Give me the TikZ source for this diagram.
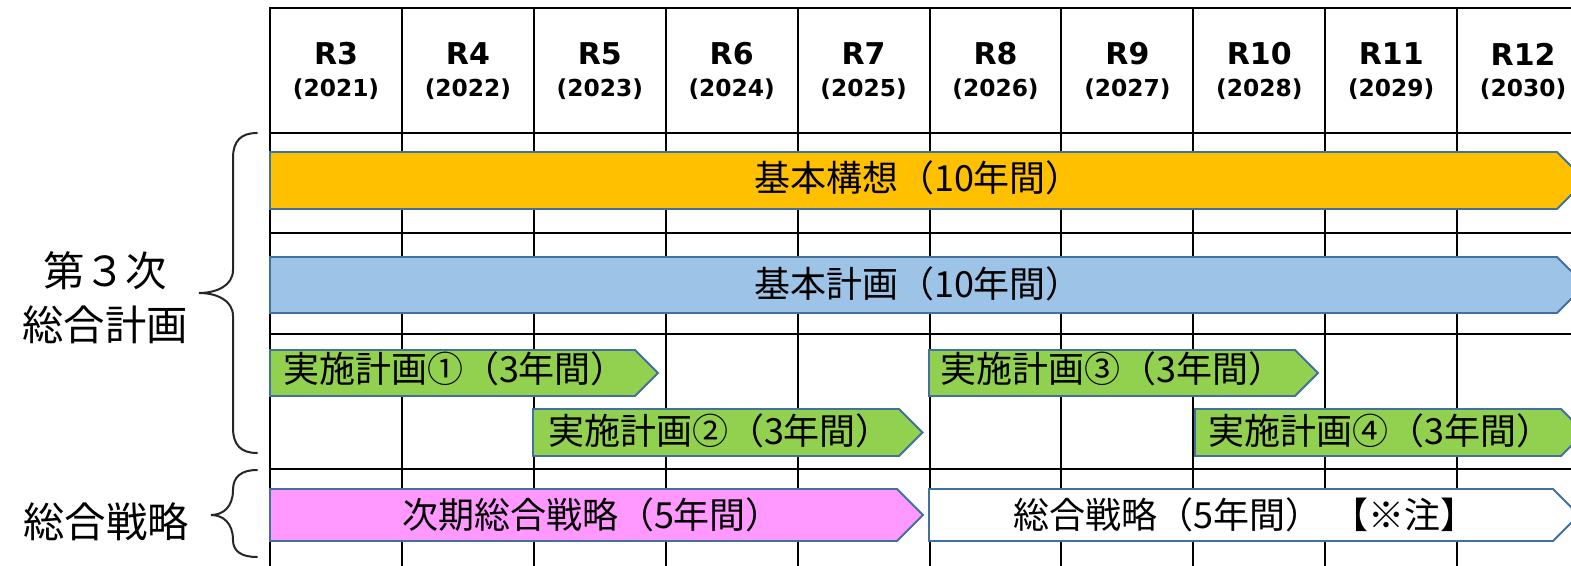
\documentclass[tikz,border=0pt]{standalone}
\usepackage{fontspec}
\newfontfamily\jp{Noto Sans CJK JP}
\newfontfamily\hd{DejaVu Sans}
\definecolor{cyellow}{HTML}{FFC000}
\definecolor{cblue}{HTML}{9DC3E6}
\definecolor{cgreen}{HTML}{92D050}
\definecolor{cpink}{HTML}{FF99FF}
\definecolor{cedge}{HTML}{41719C}
\newcommand\planbar[5]{%
  \draw[barline, fill=#5] (#1,#3) -- (#2,#3) -- ({#2+(#4-#3)/2},{(#3+#4)/2}) -- (#2,#4) -- (#1,#4) -- cycle;}
\tikzset{
  gridline/.style={line width=1.5pt, black},
  barline/.style={line width=1.4pt, draw=cedge, line join=miter},
  rlab/.style={font=\hd\bfseries\fontsize{22.5}{24}\selectfont, inner sep=0pt},
  ylab/.style={font=\hd\bfseries\fontsize{17.5}{20}\selectfont, inner sep=0pt},
  bartext/.style={font=\jp\fontsize{27}{30}\selectfont, inner sep=0pt, anchor=base},
  sidetext/.style={font=\jp\fontsize{31}{34}\selectfont, inner sep=0pt, anchor=base},
  bracestyle/.style={line width=1.5pt, black!85, line cap=round}
}
\begin{document}
\begin{tikzpicture}[x=0.75pt,y=-0.75pt]
\useasboundingbox (0,0) rectangle (1571,566);
\clip (0,0) rectangle (1571,566);
\fill[white] (0,0) rectangle (1571,566);
% grid
\foreach \k in {0,...,10} \draw[gridline] ({270+131.9*\k},8) -- ({270+131.9*\k},566);
\foreach \yy in {8,133,233,334,469} \draw[gridline] (269,\yy) -- (1571,\yy);
% header
\foreach \i/\r/\yr in {0/3/2021,1/4/2022,2/5/2023,3/6/2024,4/7/2025,5/8/2026,6/9/2027,7/10/2028,8/11/2029,9/12/2030}{
  \node[rlab] (r\r) at ({270+131.9*\i+66},54) {R\r};
  \node[ylab] (y\r) at ({270+131.9*\i+66},89) {(\yr)};
}
% bars
\planbar{270}{1557}{152}{209}{cyellow}
\planbar{270}{1557}{257}{313}{cblue}
\planbar{270}{635}{350}{396}{cgreen}
\planbar{533}{899}{409}{456}{cgreen}
\planbar{929}{1295}{350}{396}{cgreen}
\planbar{1195}{1561}{409}{456}{cgreen}
\planbar{270}{897}{489}{541}{cpink}
\planbar{929}{1553}{489}{541}{white}
% bar texts
\node[bartext] (kihonkoso) at (918,192) {基本構想（10年間）};
\node[bartext] (kihonkeikaku) at (918,298) {基本計画（10年間）};
\node[bartext] (jisshi1) at (455,383) {実施計画①（3年間）};
\node[bartext] (jisshi2) at (720,445) {実施計画②（3年間）};
\node[bartext] (jisshi3) at (1112,383) {実施計画③（3年間）};
\node[bartext] (jisshi4) at (1380,445) {実施計画④（3年間）};
\node[bartext] (jiki) at (592,528) {次期総合戦略（5年間）};
\node[bartext] (sogo) at (1245,528) {総合戦略（5年間）\hspace{0.3em}【※注】};
% side labels
\node[sidetext] (dai3) at (105,287) {第３次};
\node[sidetext] (sogokeikaku) at (105,341) {総合計画};
\node[sidetext] (sogosenryaku) at (106,537) {総合戦略};
% braces
\draw[bracestyle] (257,133) .. controls (241,133) and (233,141) .. (233,158)
  -- (233,270) .. controls (233,286) and (216,293) .. (199,293)
  .. controls (216,293) and (233,300) .. (233,316)
  -- (233,428) .. controls (233,445) and (241,453) .. (257,453);
\draw[bracestyle] (257,470) .. controls (241,470) and (233,477) .. (233,490)
  .. controls (233,507) and (223,515) .. (211,515)
  .. controls (223,515) and (233,523) .. (233,540)
  .. controls (233,551) and (241,557) .. (257,557);
\end{tikzpicture}
\end{document}
